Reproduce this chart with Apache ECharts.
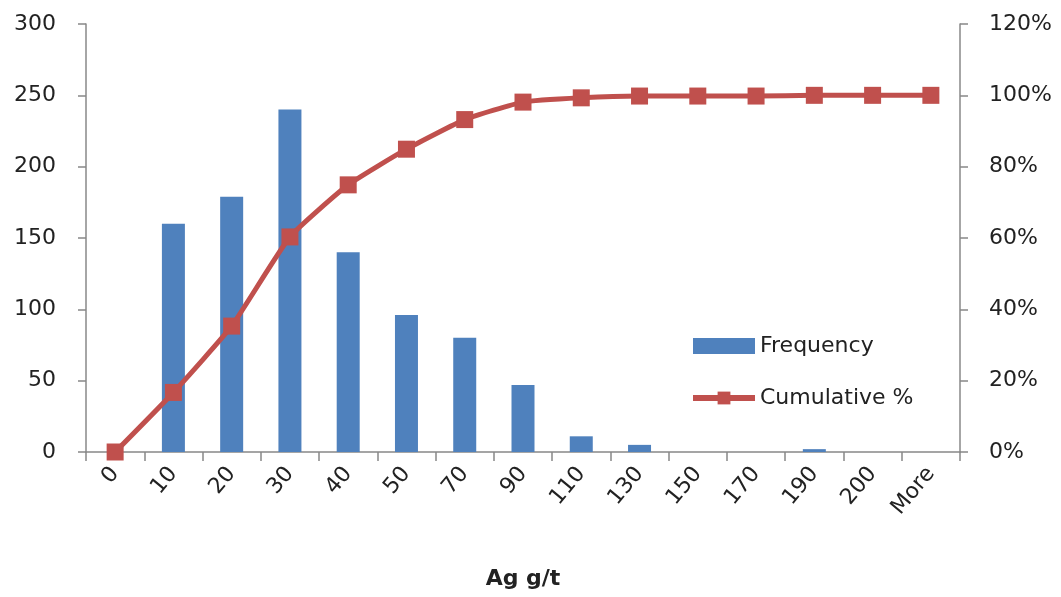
<!DOCTYPE html>
<html>
<head>
<meta charset="utf-8">
<script src="https://cdn.jsdelivr.net/npm/echarts@6/dist/echarts.min.js"></script>
<style>html,body{margin:0;padding:0;background:#fff}#c{width:1061px;height:597px}</style>
</head>
<body>
<div id="c"></div>
<script>
const categories = ['0','10','20','30','40','50','70','90','110','130','150','170','190','200','More'];
const frequency = [0,160,179,240,140,96,80,47,11,5,0,0,2,0,0];
const cumulative = [0,16.7,35.3,60.3,74.9,84.9,93.2,98.1,99.3,99.8,99.8,99.8,100,100,100];
const leftTicks = {min:0, max:300, interval:50};
const rightTicks = {min:0, max:120, interval:20};

const FONT = 'DejaVu Sans';
const axisGray = '#888888';
const chart = echarts.init(document.getElementById('c'), null, {renderer:'canvas'});
chart.setOption({
  animation:false,
  backgroundColor:'#ffffff',
  textStyle:{fontFamily:FONT},
  grid:{left:86, right:101, top:24, bottom:145},
  legend:{
    orient:'vertical', left:685, top:330, itemGap:30,
    itemWidth:62, itemHeight:16,
    textStyle:{fontFamily:FONT, fontSize:22, color:'#222'},
    data:[
      {name:'Frequency', icon:'rect'},
      {name:'Cumulative %', lineStyle:{width:6, color:'#C0504D'}, itemStyle:{color:'#C0504D'}}
    ]
  },
  xAxis:{
    type:'category', data:categories, boundaryGap:true,
    axisLine:{lineStyle:{color:axisGray, width:1.5}},
    axisTick:{show:true, length:9, lineStyle:{color:axisGray, width:1.5}, alignWithLabel:false},
    axisLabel:{rotate:50, fontSize:22, color:'#222', margin:18, fontFamily:FONT, interval:0},
    name:'Ag g/t', nameLocation:'middle', nameGap:116,
    nameTextStyle:{fontFamily:FONT, fontSize:22, fontWeight:'bold', color:'#222'}
  },
  yAxis:[{
    type:'value', min:leftTicks.min, max:leftTicks.max, interval:leftTicks.interval,
    axisLine:{show:true, lineStyle:{color:axisGray, width:1.5}},
    axisTick:{show:true, length:8, lineStyle:{color:axisGray, width:1.5}},
    axisLabel:{fontSize:22, color:'#222', margin:30, fontFamily:FONT},
    splitLine:{show:false}
  },{
    type:'value', min:rightTicks.min, max:rightTicks.max, interval:rightTicks.interval, position:'right',
    axisLine:{show:true, lineStyle:{color:axisGray, width:1.5}},
    axisTick:{show:true, length:8, lineStyle:{color:axisGray, width:1.5}},
    axisLabel:{fontSize:22, color:'#222', margin:29, fontFamily:FONT, formatter:'{value}%'},
    splitLine:{show:false}
  }],
  series:[{
    name:'Frequency', type:'bar', data:frequency, yAxisIndex:0, barWidth:23,
    itemStyle:{color:'#4F81BD'}
  },{
    name:'Cumulative %', type:'line', data:cumulative, yAxisIndex:1,
    smooth:0.15, symbol:'rect', symbolSize:17,
    lineStyle:{color:'#C0504D', width:5},
    itemStyle:{color:'#C0504D'}
  }]
});
</script>
</body>
</html>
